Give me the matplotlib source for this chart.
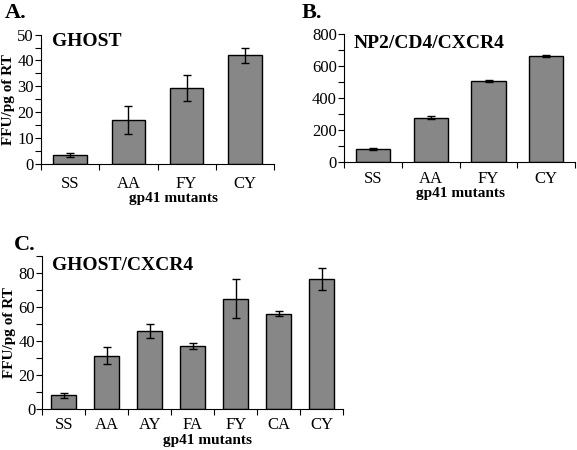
"""
gp41 mutant infectivity bar charts (three panels)
"""

import matplotlib
matplotlib.use('Agg')
import matplotlib.pyplot as plt  # pylint: disable=wrong-import-position
from matplotlib.ticker import MultipleLocator  # pylint: disable=wrong-import-position

# Panel A: GHOST
a_labels = ['SS', 'AA', 'FY', 'CY']
a_values = [3.5, 17.0, 29.5, 42.0]
a_errors = [0.8, 5.5, 5.0, 3.0]

# Panel B: NP2/CD4/CXCR4
b_labels = ['SS', 'AA', 'FY', 'CY']
b_values = [85, 280, 507, 665]
b_errors = [6, 12, 8, 5]

# Panel C: GHOST/CXCR4
c_labels = ['SS', 'AA', 'AY', 'FA', 'FY', 'CA', 'CY']
c_values = [8.0, 31.5, 46.0, 37.0, 65.0, 56.0, 76.5]
c_errors = [1.5, 5.0, 4.3, 1.6, 11.3, 1.5, 6.3]

plt.rcParams['font.family'] = ['Liberation Serif', 'DejaVu Serif']

BAR_COLOR = '#878787'


def draw_panel(ax, labels, values, errors, title, ymax, major, minor,
               bar_width, title_pos, xlabel_xy, tick_pad, ylabel=None):
    """Draw one bar panel in the journal style."""
    x = list(range(len(labels)))
    ax.bar(x, values, width=bar_width, color=BAR_COLOR, edgecolor='black',
           linewidth=1.0, zorder=2)
    ax.errorbar(x, values, yerr=errors, fmt='none', ecolor='black',
                elinewidth=1.0, capsize=3, capthick=1.0, zorder=3)

    ax.set_xlim(-0.5, len(labels) - 0.5)
    ax.set_ylim(0, ymax)
    ax.spines['top'].set_visible(False)
    ax.spines['right'].set_visible(False)
    ax.spines['left'].set_linewidth(0.8)
    ax.spines['bottom'].set_linewidth(0.8)

    # x ticks sit on the category boundaries, labels at the centres
    ax.set_xticks([i - 0.5 for i in range(len(labels) + 1)])
    ax.set_xticklabels([])
    ax.set_xticks(x, minor=True)
    ax.set_xticklabels(labels, minor=True, fontsize=12)
    ax.tick_params(axis='x', which='major', length=4, width=0.8, direction='out')
    ax.tick_params(axis='x', which='minor', length=0, pad=tick_pad)

    ax.yaxis.set_major_locator(MultipleLocator(major))
    ax.yaxis.set_minor_locator(MultipleLocator(minor))
    ax.tick_params(axis='y', which='major', length=4, width=0.8, labelsize=12, pad=1)
    ax.tick_params(axis='y', which='minor', length=4, width=0.8)

    ax.text(title_pos[0], title_pos[1], title, transform=ax.transAxes,
            fontsize=14, fontweight='bold', va='center', ha='left')
    ax.set_xlabel('gp41 mutants', fontsize=11, fontweight='bold', labelpad=0)
    ax.xaxis.set_label_coords(*xlabel_xy)
    if ylabel:
        ax.set_ylabel(ylabel, fontsize=11, fontweight='bold', labelpad=2)


fig = plt.figure(figsize=(5.77, 4.5), dpi=100)
ax_a = fig.add_axes([0.071, 0.636, 0.404, 0.287])
ax_b = fig.add_axes([0.596, 0.639, 0.401, 0.285])
ax_c = fig.add_axes([0.073, 0.091, 0.522, 0.340])

draw_panel(ax_a, a_labels, a_values, a_errors, 'GHOST', 50, 10, 5, 0.57,
           (0.047, 0.946), (0.57, -0.215), 8.5, ylabel='FFU/pg of RT')
draw_panel(ax_b, b_labels, b_values, b_errors, 'NP2/CD4/CXCR4', 800, 200, 100, 0.59,
           (0.043, 0.93), (0.506, -0.19), 6.5)
draw_panel(ax_c, c_labels, c_values, c_errors, 'GHOST/CXCR4', 90, 20, 10, 0.59,
           (0.033, 0.935), (0.55, -0.16), 6, ylabel='FFU/pg of RT')
ax_c.set_yticks([0, 20, 40, 60, 80])

fig.text(0.008, 0.993, 'A.', fontsize=16, fontweight='bold', va='top')
fig.text(0.523, 0.993, 'B.', fontsize=16, fontweight='bold', va='top')
fig.text(0.024, 0.478, 'C.', fontsize=16, fontweight='bold', va='top')

fig.savefig('out.png', dpi=100)
plt.close(fig)
